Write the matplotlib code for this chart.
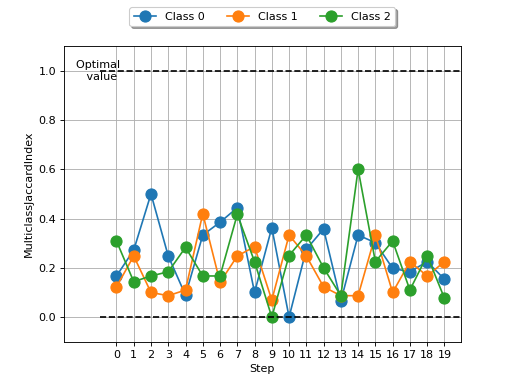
import matplotlib
matplotlib.use("Agg")
import matplotlib.pyplot as plt
import numpy as np

steps = list(range(20))
class0 = [0.167, 0.272, 0.500, 0.248, 0.089, 0.333, 0.385, 0.444, 0.100, 0.363,
          0.000, 0.275, 0.358, 0.065, 0.333, 0.302, 0.198, 0.184, 0.225, 0.154]
class1 = [0.123, 0.248, 0.100, 0.087, 0.110, 0.420, 0.141, 0.248, 0.286, 0.069,
          0.333, 0.248, 0.123, 0.087, 0.087, 0.333, 0.100, 0.225, 0.167, 0.225]
class2 = [0.309, 0.144, 0.167, 0.184, 0.283, 0.167, 0.167, 0.417, 0.225, 0.000,
          0.250, 0.333, 0.200, 0.087, 0.600, 0.225, 0.309, 0.110, 0.250, 0.077]
series = {"Class 0": class0, "Class 1": class1, "Class 2": class2}
lower_bound, upper_bound, optimal_value = 0.0, 1.0, 1.0

fig, ax = plt.subplots(figsize=(6.4, 4.8), dpi=80)
for name, vals in series.items():
    ax.plot(steps, vals, marker="o", markersize=10, linestyle="-", label=name)

ax.legend(loc="upper center", bbox_to_anchor=(0.5, 1.15), ncol=3, fancybox=True, shadow=True)
ax.set_ylabel("MulticlassJaccardIndex")
ax.set_xlabel("Step")
ax.set_xticks(steps)
ax.grid(True)

xlim = ax.get_xlim()
factor = 0.1 * (xlim[1] - xlim[0])
ax.hlines([lower_bound, upper_bound], xlim[0], xlim[1], linestyles="dashed", colors="k")
ax.text(xlim[0], optimal_value, "Optimal \n value", ha="center", va="center")
ax.set_ylim(lower_bound - 0.1, upper_bound + 0.1)
ax.set_xlim(xlim[0] - factor, xlim[1])

fig.savefig("out.png", dpi=80)
